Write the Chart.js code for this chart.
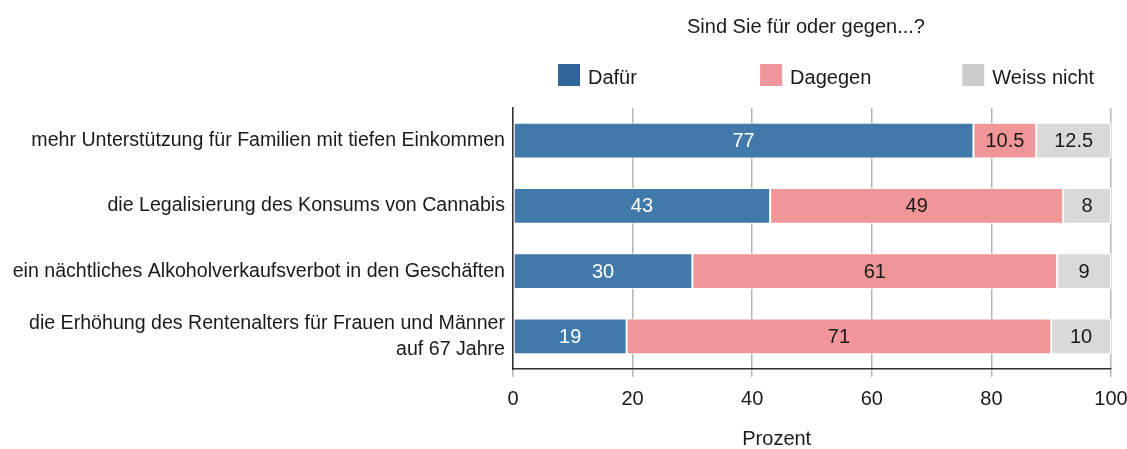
<!DOCTYPE html>
<html><head><meta charset="utf-8">
<script src="https://cdn.jsdelivr.net/npm/chart.js@4.4.1/dist/chart.umd.min.js"></script>
<style>html,body{margin:0;padding:0;background:#fff;overflow:hidden;}</style>
</head><body>
<canvas id="c" width="1127" height="449"></canvas>
<script>
const categories = [
  "mehr Unterstützung für Familien mit tiefen Einkommen",
  "die Legalisierung des Konsums von Cannabis",
  "ein nächtliches Alkoholverkaufsverbot in den Geschäften",
  ["die Erhöhung des Rentenalters für Frauen und Männer", "auf 67 Jahre"]
];
const seriesNames = ["Dafür", "Dagegen", "Weiss nicht"];
const dafuer = [77, 43, 30, 19];
const dagegen = [10.5, 49, 61, 71];
const weissNicht = [12.5, 8, 9, 10];
const xTicks = [0, 20, 40, 60, 80, 100];
const chartTitle = "Sind Sie für oder gegen...?";
const xAxisTitle = "Prozent";

const FONT = '"Liberation Sans", Arial, Helvetica, sans-serif';
const barColors = ['#4179ab', '#f09698', '#d9d9d9'];
const legendColors = ['#31669c', '#f0979b', '#cccccc'];
const labelColors = ['#ffffff', '#1a1a1a', '#1a1a1a'];
const TEXT = '#1a1a1a';

const headerPlugin = {
  id: 'header',
  afterDraw(chart) {
    const ctx = chart.ctx, a = chart.chartArea;
    const w = a.right - a.left;
    ctx.save();
    ctx.font = '20px ' + FONT;
    ctx.fillStyle = TEXT;
    ctx.textAlign = 'center';
    ctx.textBaseline = 'alphabetic';
    ctx.fillText(chartTitle, (a.left + a.right) / 2 - 6, 33);
    // axis title
    ctx.textBaseline = 'middle';
    ctx.fillText(xAxisTitle, a.left + w * 0.441, 439);
    ctx.textBaseline = 'alphabetic';
    ctx.textAlign = 'left';
    for (let i = 0; i < seriesNames.length; i++) {
      const bx = a.left + 45 + i * w * 0.338;
      ctx.fillStyle = legendColors[i];
      ctx.fillRect(bx, 64, 22, 22);
      ctx.fillStyle = TEXT;
      ctx.fillText(seriesNames[i], bx + 30, 84);
    }
    ctx.restore();
  }
};

const valueLabels = {
  id: 'valueLabels',
  afterDatasetsDraw(chart) {
    const ctx = chart.ctx;
    ctx.save();
    ctx.font = '20px ' + FONT;
    ctx.textAlign = 'center';
    ctx.textBaseline = 'middle';
    chart.data.datasets.forEach((ds, di) => {
      const meta = chart.getDatasetMeta(di);
      meta.data.forEach((el, i) => {
        const v = ds.data[i];
        const cx = (el.x + el.base) / 2;
        ctx.fillStyle = labelColors[di];
        ctx.fillText(String(v), cx, el.y + 1);
      });
    });
    ctx.restore();
  }
};

const seriesData = [dafuer, dagegen, weissNicht];

new Chart(document.getElementById('c'), {
  type: 'bar',
  data: {
    labels: categories,
    datasets: seriesNames.map((n, i) => ({
      label: n,
      data: seriesData[i],
      backgroundColor: barColors[i],
      borderColor: '#ffffff',
      borderWidth: 1,
      borderSkipped: false,
      barPercentage: 0.55,
      categoryPercentage: 1
    }))
  },
  options: {
    indexAxis: 'y',
    responsive: false,
    animation: false,
    layout: { padding: { top: 108, right: 16, bottom: 0, left: 0 } },
    plugins: {
      legend: { display: false },
      title: { display: false },
      tooltip: { enabled: false }
    },
    scales: {
      x: {
        stacked: true,
        min: 0, max: 100,
        afterBuildTicks: s => { s.ticks = xTicks.map(v => ({ value: v })); },
        afterFit: s => { s.height = 80; s.paddingLeft = 0; s.paddingRight = 0; },
        grid: { color: '#b5b5b5', lineWidth: 1.5, tickLength: 8, drawTicks: true },
        border: { display: true, color: '#333333', width: 1.5 },
        ticks: { color: TEXT, font: { family: FONT, size: 20 }, padding: 10, maxRotation: 0 },
        title: { display: false }
      },
      y: {
        stacked: true,
        afterFit: s => { s.width = 513; s.paddingTop = 0; s.paddingBottom = 0; },
        grid: { display: false, drawTicks: false },
        border: { display: true, color: '#333333', width: 1.5 },
        ticks: { color: TEXT, font: { family: FONT, size: 19.6, lineHeight: 1.3 }, padding: 8 }
      }
    }
  },
  plugins: [headerPlugin, valueLabels]
});
</script>
</body></html>
